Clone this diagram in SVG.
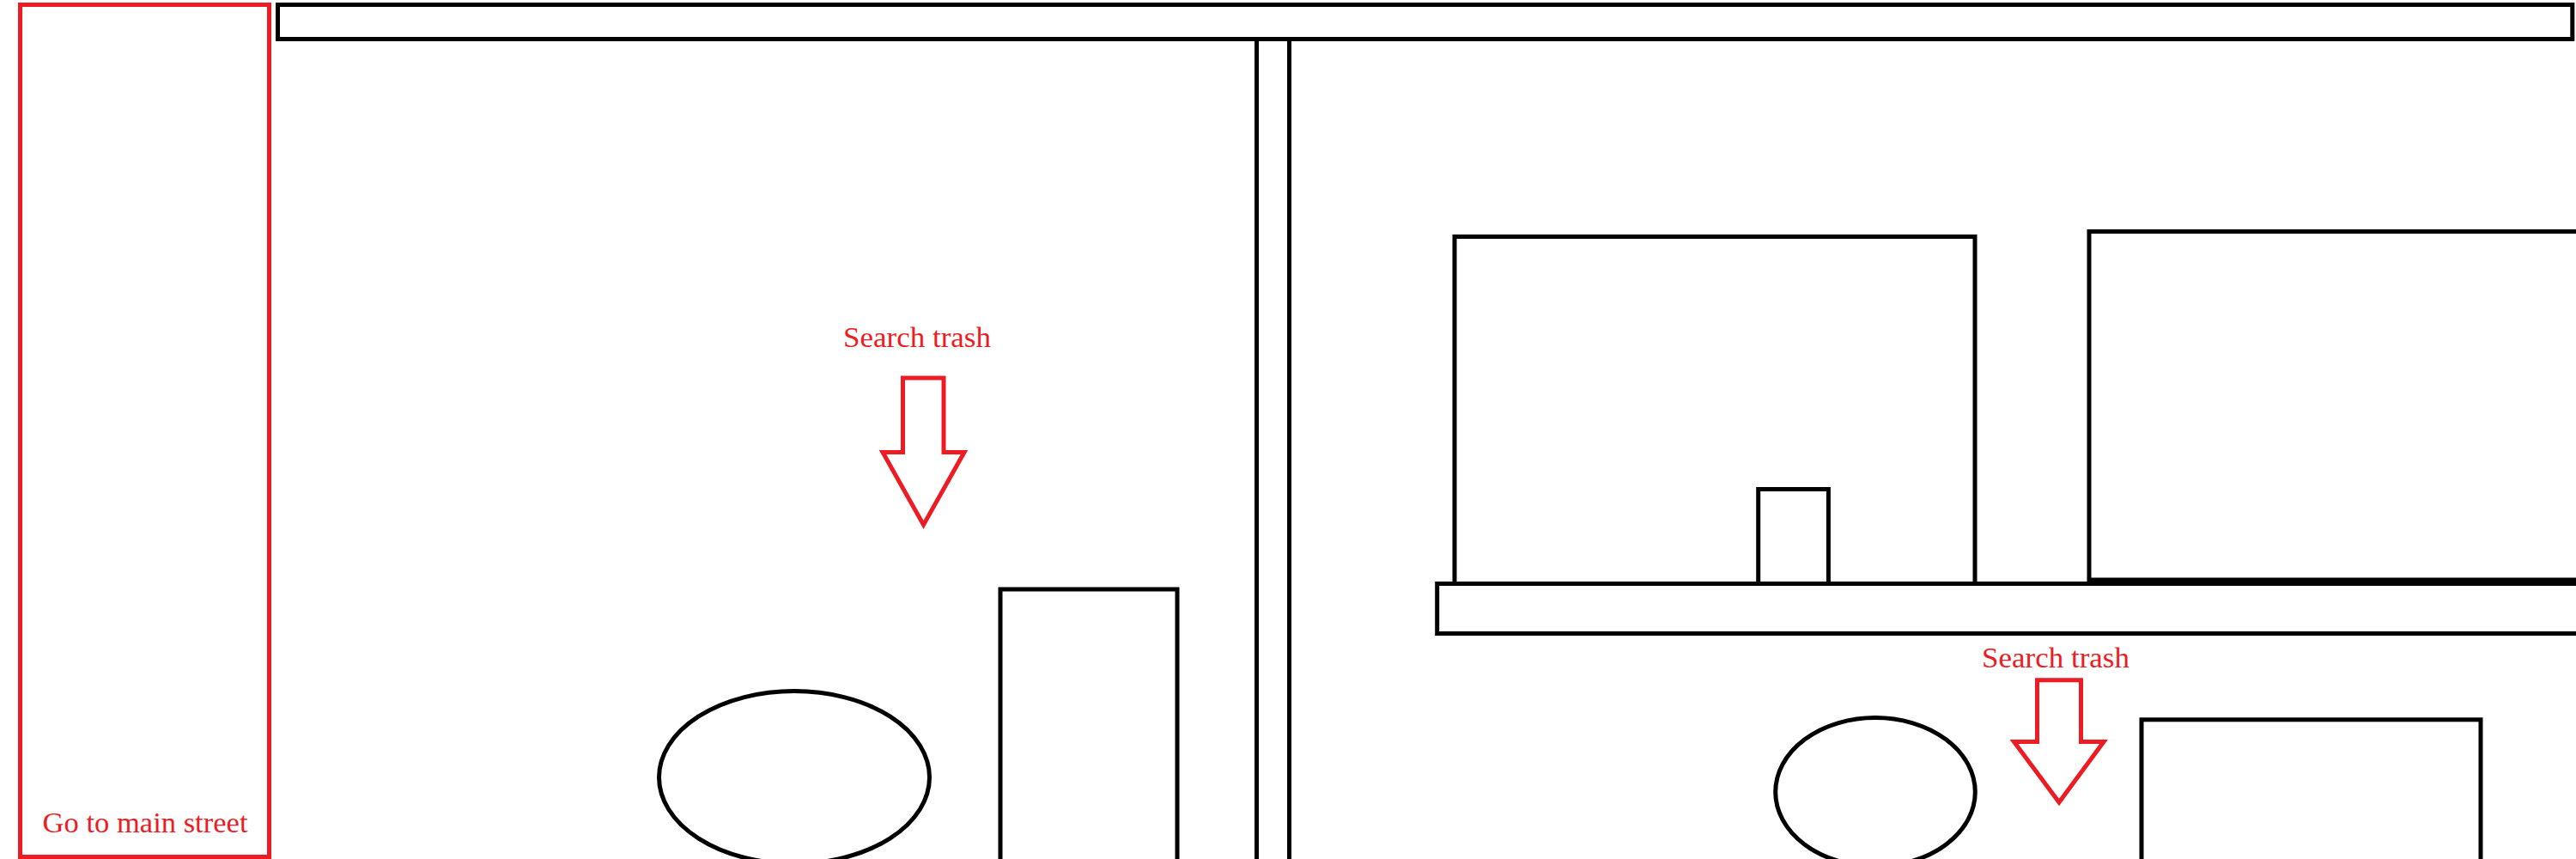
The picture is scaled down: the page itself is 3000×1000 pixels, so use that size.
<svg xmlns="http://www.w3.org/2000/svg" width="3000" height="1000" viewBox="0 0 3000 1000">
  <style>
    .blk { fill: none; stroke: #000000; stroke-width: 5; }
    .red { fill: none; stroke: #ED1C24; stroke-width: 5; stroke-linejoin: miter; }
    .lbl { fill: #ED1C24; font-family: "Liberation Serif", "DejaVu Serif", serif; font-size: 33px; }
  </style>
  <rect width="3000" height="1000" fill="#ffffff"/>
  <g id="exit-main-street">
    <rect class="red" x="23.5" y="5.5" width="290" height="992"/>
    <text class="lbl" x="169" y="969" text-anchor="middle" textLength="239" lengthAdjust="spacingAndGlyphs">Go to main street</text>
  </g>
  <g id="top-bar">
    <rect class="blk" x="323.5" y="5.5" width="2672.3" height="40"/>
  </g>
  <g id="pole">
    <path class="blk" d="M1463.5 48 V1003 M1501.5 48 V1003"/>
  </g>
  <g id="trash-1">
    <text class="lbl" x="1068" y="404" text-anchor="middle" textLength="172" lengthAdjust="spacingAndGlyphs">Search trash</text>
    <polygon class="red" points="1051.5,440 1099,440 1099,526.5 1123,526.5 1075.5,611 1028,526.5 1051.5,526.5"/>
  </g>
  <g id="ellipse-1">
    <ellipse class="blk" cx="925" cy="905" rx="157.5" ry="100.5"/>
  </g>
  <g id="box-1">
    <rect class="blk" x="1165" y="686" width="206" height="320"/>
  </g>
  <g id="building-1">
    <rect class="blk" x="1694" y="275.5" width="606" height="404"/>
  </g>
  <g id="door">
    <rect class="blk" x="2047.7" y="569.5" width="81.7" height="110"/>
  </g>
  <g id="building-2">
    <rect class="blk" x="2433" y="269.5" width="600" height="405.5"/>
  </g>
  <g id="platform">
    <rect class="blk" x="1673.7" y="679.5" width="1340" height="58"/>
  </g>
  <g id="trash-2">
    <text class="lbl" x="2394" y="777" text-anchor="middle" textLength="172" lengthAdjust="spacingAndGlyphs">Search trash</text>
    <polygon class="red" points="2372.5,791.7 2423.5,791.7 2423.5,863.5 2450,863.5 2398,934 2345.5,863.5 2372.5,863.5"/>
  </g>
  <g id="ellipse-2">
    <ellipse class="blk" cx="2184" cy="922" rx="116.3" ry="86.5"/>
  </g>
  <g id="box-2">
    <rect class="blk" x="2494" y="837.8" width="395" height="170"/>
  </g>
  <g id="connectors"/>
</svg>
